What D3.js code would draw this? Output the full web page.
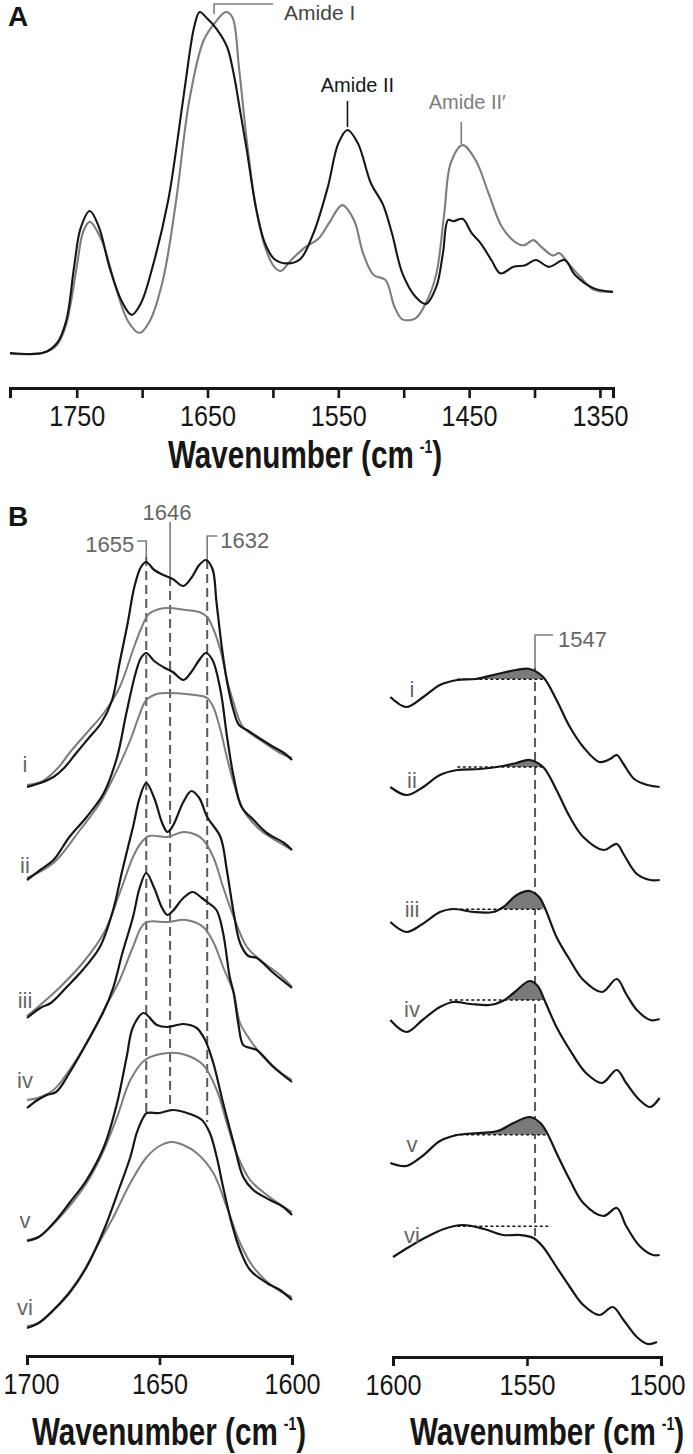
<!DOCTYPE html>
<html>
<head>
<meta charset="utf-8">
<script src="https://cdn.jsdelivr.net/npm/d3@7"></script>
<style>
  body { margin: 0; background: #fff; }
  svg text { font-family: "Liberation Sans", Arial, sans-serif; }
</style>
</head>
<body>
<svg id="fig" width="693" height="1454"></svg>
<script>
// ---- panel A: full spectra (wavenumber, normalised absorbance) ----
const specA_black = [[1801,0.006],[1775,0.007],[1765,0.035],[1758,0.10],[1752,0.257],[1747,0.37],[1740,0.42],[1733,0.373],[1725,0.257],[1716,0.16],[1708,0.117],[1701,0.15],[1692,0.257],[1680,0.452],[1674,0.598],[1667,0.79],[1660,0.96],[1656,1.0],[1650,0.98],[1643,0.95],[1635,0.898],[1630,0.82],[1625,0.71],[1620,0.598],[1613,0.43],[1606,0.325],[1599,0.28],[1589,0.267],[1579,0.28],[1569,0.355],[1558,0.49],[1550,0.617],[1543,0.656],[1535,0.617],[1525,0.50],[1516,0.44],[1509,0.355],[1501,0.238],[1491,0.17],[1483,0.149],[1475,0.2],[1470,0.297],[1466,0.394],[1462,0.39],[1455,0.397],[1448,0.355],[1441,0.325],[1433,0.277],[1426,0.238],[1416,0.257],[1407,0.262],[1399,0.277],[1389,0.257],[1377,0.277],[1369,0.233],[1355,0.195],[1340,0.184]];
const specA_gray = [[1801,0.004],[1775,0.007],[1765,0.03],[1758,0.09],[1750,0.257],[1745,0.36],[1740,0.388],[1731,0.335],[1721,0.21],[1711,0.1],[1702,0.064],[1694,0.1],[1684,0.22],[1674,0.45],[1664,0.74],[1653,0.917],[1643,0.975],[1636,1.0],[1631,0.985],[1626,0.84],[1620,0.626],[1613,0.43],[1606,0.315],[1599,0.257],[1594,0.245],[1586,0.277],[1575,0.315],[1565,0.34],[1557,0.385],[1547,0.437],[1538,0.393],[1531,0.296],[1523,0.233],[1514,0.219],[1507,0.14],[1501,0.104],[1491,0.107],[1482,0.16],[1475,0.238],[1469,0.413],[1464,0.56],[1455,0.612],[1445,0.568],[1435,0.47],[1425,0.374],[1415,0.33],[1408,0.32],[1401,0.335],[1395,0.316],[1386,0.29],[1381,0.297],[1374,0.266],[1365,0.228],[1355,0.191],[1340,0.184]];
const ticksA = [1750,1700,1650,1600,1550,1500,1450,1400,1350];
const ticksLeft = [1700, 1650, 1600];
const ticksRight = [1600, 1550, 1500];

// ---- panel B: sample names and stacking offsets ----
const samples = ["i","ii","iii","iv","v","vi"];
const offsetsLeft  = [5.53, 4.60, 3.22, 2.32, 0.99, 0.12];
const offsetsRight = [6.43, 5.53, 4.18, 3.20, 1.77, 0.83];

// amide I region, black = deconvolved, gray = original (relative to offset)
const blackI = [[1700,0],[1695,0.04],[1690,0.10],[1686,0.19],[1682,0.32],[1677,0.48],[1672,0.64],[1668,0.86],[1665,1.25],[1662,1.64],[1659.5,2.0],[1657,2.2],[1655,2.25],[1652,2.17],[1648.5,2.12],[1645,2.08],[1641,2.01],[1638,2.09],[1635,2.22],[1632.5,2.27],[1630,2.18],[1628.5,1.85],[1626.5,1.40],[1624.5,1.05],[1622,0.76],[1620,0.62],[1617,0.57],[1613,0.50],[1607,0.40],[1603,0.34],[1600,0.27]];
const grayI  = [[1700,0.02],[1694,0.06],[1688,0.2],[1684,0.34],[1677.5,0.54],[1671,0.74],[1665,1.0],[1660,1.37],[1657,1.58],[1654,1.73],[1650,1.78],[1647,1.79],[1640,1.77],[1635,1.75],[1632,1.70],[1630,1.60],[1627,1.37],[1624.5,1.07],[1622,0.84],[1618.5,0.60],[1612,0.47],[1604.5,0.34],[1600,0.29]];
const blackII = [[1700,0],[1695,0.10],[1690,0.20],[1684,0.43],[1677.5,0.63],[1671,0.87],[1666,1.23],[1662.5,1.67],[1659,2.07],[1657,2.22],[1655,2.27],[1652,2.19],[1648,2.12],[1645,2.08],[1641,2.0],[1638,2.08],[1635,2.2],[1632.5,2.27],[1630,2.2],[1627,1.9],[1624.5,1.43],[1622,1.03],[1619,0.73],[1614.5,0.60],[1609.5,0.47],[1603,0.37],[1600,0.30]];
const grayII  = [[1700,0.02],[1690,0.17],[1680,0.50],[1672.5,0.77],[1666,1.10],[1661,1.40],[1658,1.62],[1655,1.80],[1651,1.86],[1646,1.87],[1640,1.86],[1634,1.84],[1632,1.82],[1629.7,1.73],[1627,1.50],[1624.6,1.23],[1622,0.97],[1618.4,0.70],[1612,0.50],[1604.5,0.37],[1600,0.30]];
const blackIII = [[1700,0],[1695,0.10],[1691,0.15],[1685,0.31],[1679,0.48],[1672.5,0.71],[1667.5,1.08],[1664,1.48],[1660,1.91],[1657.5,2.2],[1655,2.35],[1652,2.2],[1649,1.95],[1647,1.86],[1645,1.92],[1641,2.16],[1638,2.27],[1635,2.2],[1632,2.01],[1627,1.81],[1624.6,1.48],[1622,1.05],[1619.6,0.75],[1616.5,0.62],[1613.3,0.60],[1607,0.45],[1600,0.30]];
const grayIII  = [[1700,0.02],[1695,0.13],[1687.5,0.31],[1679,0.55],[1671,0.85],[1665,1.25],[1660,1.61],[1657,1.75],[1654,1.82],[1647,1.81],[1641,1.86],[1636,1.83],[1633.5,1.78],[1629.7,1.61],[1626,1.31],[1622,1.01],[1617,0.71],[1612,0.58],[1604.5,0.43],[1600,0.31]];
const blackIV = [[1700,0],[1696,0.08],[1692.5,0.13],[1689,0.16],[1684,0.35],[1677.5,0.65],[1671,0.97],[1667.5,1.2],[1664,1.55],[1660,1.91],[1657.5,2.2],[1655,2.35],[1652,2.2],[1649,2.0],[1647,1.93],[1645,1.97],[1641,2.1],[1637.5,2.16],[1634,2.1],[1632,2.06],[1628.5,1.98],[1626,1.75],[1623.5,1.31],[1622,1.15],[1620.3,0.85],[1618.4,0.63],[1615.8,0.60],[1613.3,0.58],[1607,0.41],[1600,0.26]];
const grayIV  = [[1700,0.08],[1696,0.10],[1690,0.18],[1684,0.38],[1677.5,0.65],[1671,0.98],[1665,1.28],[1660,1.61],[1655.5,1.85],[1647,1.86],[1640,1.88],[1633.5,1.81],[1629.7,1.66],[1626,1.41],[1622,1.15],[1619.6,0.85],[1615.8,0.68],[1610.8,0.51],[1604.5,0.36],[1600,0.28]];
const blackV = [[1700,0],[1695.6,0.04],[1690,0.18],[1684,0.38],[1677.5,0.61],[1671,0.94],[1666,1.38],[1662.4,1.84],[1660,2.14],[1656,2.28],[1651,2.16],[1647,2.14],[1641,2.17],[1636,2.13],[1632.8,2.01],[1629.7,1.78],[1626,1.38],[1622,0.98],[1618.4,0.64],[1614.6,0.51],[1608.3,0.41],[1603.3,0.34],[1600,0.26]];
const grayV  = [[1700,0.01],[1695.6,0.04],[1687.5,0.24],[1677.5,0.58],[1671,0.91],[1666,1.24],[1661,1.61],[1655.5,1.81],[1647,1.88],[1640,1.86],[1633.5,1.76],[1628.4,1.51],[1624.6,1.18],[1621,0.88],[1615.8,0.61],[1609.5,0.46],[1603,0.34],[1600,0.29]];
const blackVI = [[1700,0],[1695.6,0.05],[1690,0.18],[1684,0.35],[1677.5,0.61],[1671,0.98],[1665,1.41],[1661,1.71],[1658.6,1.95],[1656,2.11],[1654.8,2.15],[1650,2.15],[1645,2.18],[1638.5,2.14],[1634,2.08],[1631,1.95],[1628.4,1.71],[1626,1.41],[1622.8,1.05],[1619.6,0.78],[1615.8,0.58],[1609.5,0.45],[1604.5,0.38],[1600,0.28]];
const grayVI  = [[1700,0.02],[1695,0.06],[1687.5,0.25],[1680,0.51],[1673.7,0.81],[1667.4,1.11],[1661,1.45],[1654.8,1.71],[1650,1.82],[1645.4,1.86],[1641,1.83],[1636,1.75],[1629.7,1.55],[1624.6,1.21],[1619.6,0.85],[1614.6,0.61],[1607,0.41],[1600,0.31]];

// amide II region (relative to offset), dotted baseline level and range
const amideII_I   = [[1601,0],[1595,-0.10],[1588.7,0],[1582.5,0.12],[1576,0.17],[1569,0.18],[1561,0.23],[1554,0.27],[1549,0.28],[1544,0.20],[1539,-0.03],[1534,-0.30],[1529,-0.50],[1523,-0.65],[1519,-0.62],[1516.5,-0.58],[1514,-0.67],[1510,-0.82],[1505,-0.88],[1500.5,-0.90]];
const amideII_II  = [[1601,0],[1595,-0.08],[1588.7,0],[1582.5,0.12],[1576,0.17],[1567.5,0.18],[1559,0.21],[1554,0.24],[1549,0.27],[1544,0.20],[1539,-0.03],[1534,-0.30],[1529,-0.50],[1521.5,-0.63],[1516.5,-0.57],[1514,-0.67],[1509,-0.87],[1504,-0.93],[1500.5,-0.93]];
const amideII_III = [[1601,0],[1595,-0.10],[1589,-0.02],[1582.5,0.10],[1577.5,0.13],[1570,0.10],[1562.6,0.10],[1558.8,0.15],[1553.8,0.27],[1549,0.31],[1545.5,0.25],[1543,0.12],[1539,-0.15],[1534,-0.38],[1529,-0.58],[1522,-0.70],[1516.5,-0.57],[1513,-0.72],[1509,-0.88],[1504,-0.98],[1500.5,-0.97]];
const amideII_IV  = [[1601,0],[1595,-0.12],[1589,0],[1582.5,0.13],[1577.5,0.18],[1571,0.16],[1564,0.15],[1559,0.19],[1555,0.27],[1549,0.39],[1546,0.34],[1543.5,0.20],[1539,-0.07],[1534,-0.30],[1528,-0.53],[1522,-0.63],[1516.5,-0.50],[1513,-0.63],[1508,-0.80],[1504,-0.87],[1500.5,-0.78]];
const amideII_V   = [[1601,0],[1595,-0.03],[1589,0.07],[1582.5,0.22],[1576,0.28],[1568,0.30],[1561,0.32],[1555,0.40],[1549,0.46],[1545,0.40],[1542.5,0.30],[1539,0.10],[1534,-0.17],[1529,-0.40],[1521.5,-0.53],[1516.5,-0.45],[1513,-0.63],[1508,-0.83],[1503,-0.92],[1500.5,-0.92]];
const amideII_VI  = [[1600,0],[1594,0.10],[1587.5,0.20],[1581,0.28],[1574,0.32],[1566,0.28],[1559,0.22],[1552.6,0.22],[1547.6,0.19],[1544,0.10],[1539,-0.10],[1534,-0.30],[1529,-0.48],[1523,-0.58],[1518,-0.50],[1514,-0.63],[1509,-0.80],[1505,-0.87],[1501.5,-0.85]];
const baseLevels = [0.177, 0.20, 0.127, 0.20, 0.283, 0.307];
const baseRanges = [[1576,1544],[1576,1544],[1579,1544],[1579,1544],[1577,1543],[1576,1541]];
const shaded = [true, true, true, true, true, false];

const markersLeft = [1655, 1646, 1632];
const markerRight = 1547;

const leftBlack = [blackI, blackII, blackIII, blackIV, blackV, blackVI];
const leftGray  = [grayI, grayII, grayIII, grayIV, grayV, grayVI];
const rightBlack = [amideII_I, amideII_II, amideII_III, amideII_IV, amideII_V, amideII_VI];

// label lift above each trace start (px)
const liftLeft = [15, 7, 10, 20, 13, 13];
const liftRight = [0, -1, 5, 3, 11, 14];

const ink = "#161616", grey = "#7d7d7d", labelGrey = "#666";
const svg = d3.select("#fig");

function styleAxis(g) {
  g.select(".domain").attr("stroke", ink).attr("stroke-width", 3);
  g.selectAll(".tick line").attr("stroke", ink).attr("stroke-width", 2.6);
  g.selectAll(".tick text").attr("fill", ink).attr("font-size", 29)
    .attr("font-family", "'Liberation Sans', Arial, sans-serif")
    .attr("textLength", function() { return this.textContent ? 56 : null; })
    .attr("lengthAdjust", "spacingAndGlyphs");
}
function axisTitle(x, y) {
  const t = svg.append("text").attr("transform", `translate(${x},${y}) scale(0.78,1)`)
    .attr("text-anchor", "middle").attr("font-size", 38).attr("font-weight", "bold").attr("fill", ink);
  t.append("tspan").text("Wavenumber (cm\u2009");
  t.append("tspan").attr("dy", -15).attr("font-size", 18).text("-1");
  t.append("tspan").attr("dy", 15).text(")");
}

// ================= Panel A =================
const xA = d3.scaleLinear().domain([1801, 1340]).range([10, 613]);
const yA = d3.scaleLinear().domain([0, 1]).range([355, 12]);
const lineA = d3.line().x(d => xA(d[0])).y(d => yA(d[1])).curve(d3.curveCatmullRom.alpha(0.5));

svg.append("path").datum(specA_gray).attr("d", lineA)
  .attr("fill", "none").attr("stroke", grey).attr("stroke-width", 2.1);
svg.append("path").datum(specA_black).attr("d", lineA)
  .attr("fill", "none").attr("stroke", ink).attr("stroke-width", 2.1);

svg.append("g").attr("transform", "translate(0,388)")
  .call(d3.axisBottom(xA).tickValues(ticksA).tickSize(10).tickSizeOuter(10).tickPadding(7)
    .tickFormat(d => d % 100 === 50 ? String(d) : ""))
  .call(styleAxis);
axisTitle(305, 468);

svg.append("text").attr("x", 8).attr("y", 26).attr("font-size", 28)
  .attr("font-weight", "bold").attr("fill", ink).text("A");

// band labels
const xI = xA(1645);
svg.append("path").attr("d", `M${xI},14V4H${xI + 59}`)
  .attr("fill", "none").attr("stroke", grey).attr("stroke-width", 1.6);
svg.append("text").attr("x", xI + 70).attr("y", 20).attr("font-size", 21)
  .attr("fill", "#444").text("Amide I");
const xII = xA(1543);
svg.append("line").attr("x1", xII).attr("x2", xII).attr("y1", 101).attr("y2", 127)
  .attr("stroke", ink).attr("stroke-width", 1.6);
svg.append("text").attr("x", xII + 10).attr("y", 92).attr("text-anchor", "middle")
  .attr("font-size", 20).attr("fill", ink).text("Amide II");
const xII2 = xA(1456);
svg.append("line").attr("x1", xII2).attr("x2", xII2).attr("y1", 122).attr("y2", 144)
  .attr("stroke", grey).attr("stroke-width", 1.6);
svg.append("text").attr("x", xII2 + 6).attr("y", 109).attr("text-anchor", "middle")
  .attr("font-size", 20).attr("fill", grey).text("Amide II\u2032");

// ================= Panel B =================
svg.append("text").attr("x", 8).attr("y", 526).attr("font-size", 28)
  .attr("font-weight", "bold").attr("fill", ink).text("B");

const yB = d3.scaleLinear().domain([0, 8]).range([1340, 540]);
const xL = d3.scaleLinear().domain([1700, 1600]).range([27, 292]);
const xR = d3.scaleLinear().domain([1600, 1500]).range([393, 661]);

// marker lines (solid leader + dashed guide)
const leaders = [
  { d: x => `M${x - 9},541H${x}V557`, top: 557, bot: 1113, tx: x => x - 12, ty: 552, anchor: "end" },
  { d: x => `M${x},522V577`, top: 577, bot: 1110, tx: x => x - 3, ty: 520, anchor: "middle" },
  { d: x => `M${x + 10},536H${x}V560`, top: 560, bot: 1122, tx: x => x + 13, ty: 548, anchor: "start" }
];
markersLeft.forEach((w, k) => {
  const x = xL(w), L = leaders[k];
  svg.append("line").attr("x1", x).attr("x2", x).attr("y1", L.top).attr("y2", L.bot)
    .attr("stroke", "#5a5a5a").attr("stroke-width", 2).attr("stroke-dasharray", "9,5");
  svg.append("path").attr("d", L.d(x)).attr("fill", "none").attr("stroke", grey).attr("stroke-width", 1.6);
  svg.append("text").attr("x", L.tx(x)).attr("y", L.ty).attr("text-anchor", L.anchor)
    .attr("font-size", 22).attr("fill", labelGrey).text(w);
});
{
  const x = xR(markerRight);
  svg.append("line").attr("x1", x).attr("x2", x).attr("y1", 668).attr("y2", 1236)
    .attr("stroke", "#5a5a5a").attr("stroke-width", 2).attr("stroke-dasharray", "9,5");
  svg.append("path").attr("d", `M${x + 18},635H${x}V668`).attr("fill", "none")
    .attr("stroke", grey).attr("stroke-width", 1.6);
  svg.append("text").attr("x", x + 23).attr("y", 647).attr("font-size", 22)
    .attr("fill", labelGrey).text(markerRight);
}

// left: amide I stacks
samples.forEach((s, k) => {
  const off = offsetsLeft[k];
  const line = d3.line().x(d => xL(d[0])).y(d => yB(off + d[1])).curve(d3.curveCatmullRom.alpha(0.5));
  svg.append("path").datum(leftGray[k]).attr("d", line)
    .attr("fill", "none").attr("stroke", grey).attr("stroke-width", 2);
  svg.append("path").datum(leftBlack[k]).attr("d", line)
    .attr("fill", "none").attr("stroke", ink).attr("stroke-width", 2.2);
  svg.append("text").attr("x", 25).attr("y", yB(off) - liftLeft[k]).attr("text-anchor", "middle")
    .attr("font-size", 22).attr("fill", labelGrey).text(s);
});

// right: amide II stacks with shaded 1547 band
samples.forEach((s, k) => {
  const off = offsetsRight[k], base = off + baseLevels[k], rng = baseRanges[k];
  const curve = d3.curveCatmullRom.alpha(0.5);
  if (shaded[k]) {
    const id = "clip" + k;
    svg.append("clipPath").attr("id", id).append("rect")
      .attr("x", xR(rng[0])).attr("width", xR(rng[1]) - xR(rng[0]))
      .attr("y", yB(base) - 60).attr("height", 60);
    const area = d3.area().x(d => xR(d[0])).y0(yB(base)).y1(d => yB(off + d[1])).curve(curve);
    svg.append("path").datum(rightBlack[k]).attr("d", area)
      .attr("clip-path", `url(#${id})`).attr("fill", "#7a7a7a");
  }
  svg.append("line").attr("x1", xR(rng[0])).attr("x2", xR(rng[1]))
    .attr("y1", yB(base)).attr("y2", yB(base))
    .attr("stroke", ink).attr("stroke-width", 1.6).attr("stroke-dasharray", "3,2.5");
  const line = d3.line().x(d => xR(d[0])).y(d => yB(off + d[1])).curve(curve);
  svg.append("path").datum(rightBlack[k]).attr("d", line)
    .attr("fill", "none").attr("stroke", ink).attr("stroke-width", 2.2);
  svg.append("text").attr("x", 412).attr("y", yB(off) - liftRight[k]).attr("text-anchor", "middle")
    .attr("font-size", 22).attr("fill", labelGrey).text(s);
});

// axes B
svg.append("g").attr("transform", "translate(0,1356)")
  .call(d3.axisBottom(xL).tickValues(ticksLeft).tickSize(9).tickSizeOuter(9).tickPadding(8).tickFormat(d3.format("d")))
  .call(styleAxis)
  .selectAll(".tick text").filter(d => d === 1700).attr("dx", 4);
svg.append("g").attr("transform", "translate(0,1357)")
  .call(d3.axisBottom(xR).tickValues(ticksRight).tickSize(9).tickSizeOuter(9).tickPadding(8).tickFormat(d3.format("d")))
  .call(styleAxis)
  .selectAll(".tick text").filter(d => d === 1500).attr("dx", -4);
axisTitle(169, 1445);
axisTitle(547, 1445);
</script>
</body>
</html>
